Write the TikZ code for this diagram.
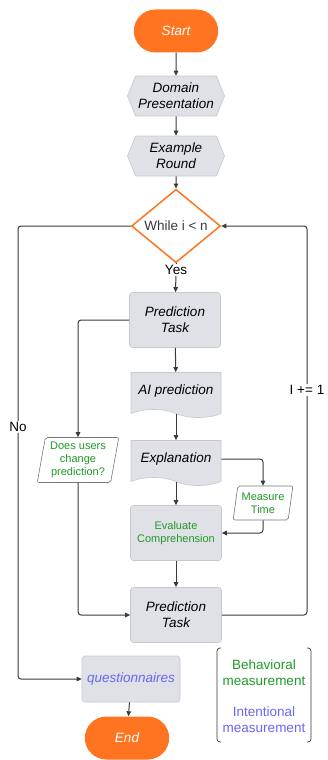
\documentclass[tikz,border=0pt]{standalone}
\usepackage{fontspec}
\setmainfont{Liberation Sans}
\usetikzlibrary{shapes.geometric,shapes.misc,shapes.symbols,arrows.meta}
\definecolor{floworange}{HTML}{FF7420}
\definecolor{flowgray}{HTML}{DFE1E6}
\definecolor{flowedge}{HTML}{C5C8CE}
\definecolor{flowline}{HTML}{3A3A3A}
\definecolor{behavgreen}{HTML}{1E9A28}
\definecolor{intentblue}{HTML}{6A66F0}
\begin{document}
\begin{tikzpicture}[x=1pt,y=-1pt,
  big/.style={font=\fontsize{13.5}{16}\selectfont},
  bigit/.style={font=\fontsize{13.5}{16}\selectfont\itshape},
  small/.style={font=\fontsize{11}{13}\selectfont},
  term/.style={rounded rectangle,fill=floworange,text=white,bigit,minimum width=91pt,minimum height=43pt},
  prep/.style={signal,signal to=east and west,signal pointer angle=136,fill=flowgray,draw=flowedge,line width=0.6pt,bigit,align=center,minimum width=97pt,minimum height=40pt,inner sep=0pt},
  proc/.style={rectangle,rounded corners=3pt,fill=flowgray,draw=flowedge,line width=0.6pt,align=center,minimum width=91pt,minimum height=55pt,inner sep=0pt},
  docu/.style={tape,tape bend top=none,tape bend bottom=out and in,tape bend height=8pt,fill=flowgray,draw=flowedge,line width=0.6pt,bigit,minimum width=90pt,minimum height=45pt,inner sep=0pt},
  para/.style={trapezium,trapezium stretches=true,trapezium left angle=79,trapezium right angle=101,rounded corners=2pt,fill=white,draw=flowline!70,line width=0.6pt,small,text=behavgreen,align=center,inner sep=0pt},
  conn/.style={draw=flowline,line width=1pt,rounded corners=3pt},
  arr/.style={conn,-{Triangle[length=5pt,width=4.5pt]}},
  lbl/.style={fill=white,big,inner sep=1pt}]
\useasboundingbox (0,0) rectangle (327,760);
\node[term] (start) at (176,31) {Start};
\node[prep] (dompres) at (176,96) {Domain\\Presentation};
\node[prep] (exround) at (176,156) {Example\\Round};
\node[diamond,draw=floworange,line width=1.5pt,fill=white,minimum width=89pt,minimum height=61pt,inner sep=0pt,big,text=flowline] (whileloop) at (176,226) {While i < n};
\node[lbl] (yes) at (176,270) {Yes};
\node[proc,bigit] (predtask) at (175,320) {Prediction\\Task};
\node[docu] (aipred) at (176,391) {AI prediction};
\node[docu] (explan) at (176,459) {Explanation};
\node[proc,small,text=behavgreen] (evalcomp) at (176,533) {Evaluate\\Comprehension};
\node[proc,bigit] (predtasktwo) at (176,615) {Prediction\\Task};
\node[para,minimum width=82pt,minimum height=45pt] (usrchange) at (78,460) {Does users\\change\\prediction?};
\node[para,minimum width=60pt,minimum height=34pt] (meastime) at (263,503) {Measure\\Time};
\node[proc,bigit,text=intentblue,minimum width=98pt,minimum height=46pt] (quest) at (131,679) {questionnaires};
\node[term] (finish) at (127,738) {End};
\node[lbl] (no) at (18,427) {No};
\node[lbl] (incr) at (307,390) {I += 1};
\node[big,text=behavgreen,align=center] (behav) at (264,673) {Behavioral\\measurement};
\node[big,text=intentblue,align=center] (intent) at (264,720) {Intentional\\measurement};
\draw[conn,line width=0.7pt] (221,648) -- (217,648) -- (217,742) -- (221,742);
\draw[conn,line width=0.7pt] (307,648) -- (311,648) -- (311,742) -- (307,742);
\draw[arr] (start) -- (dompres);
\draw[arr] (dompres) -- (exround);
\draw[arr] (exround) -- (whileloop);
\draw[conn] (whileloop) -- (yes);
\draw[arr] (yes) -- (predtask);
\draw[arr] (predtask) -- (aipred);
\draw[arr] (aipred) -- (explan);
\draw[arr] (explan) -- (evalcomp);
\draw[arr] (evalcomp) -- (predtasktwo);
\draw[arr] (quest) -- (finish);
\draw[arr] (predtask.west) -| (usrchange.north);
\draw[arr] (usrchange.south) |- (predtasktwo.west);
\draw[arr] (explan.east) -| (meastime.north);
\draw[arr] (meastime.south) |- (evalcomp.east);
\draw[conn] (whileloop.west) -| (no.north);
\draw[arr] (no.south) |- (quest.west);
\draw[conn] (predtasktwo.east) -| (incr.south);
\draw[arr] (incr.north) |- (whileloop.east);
\end{tikzpicture}
\end{document}
